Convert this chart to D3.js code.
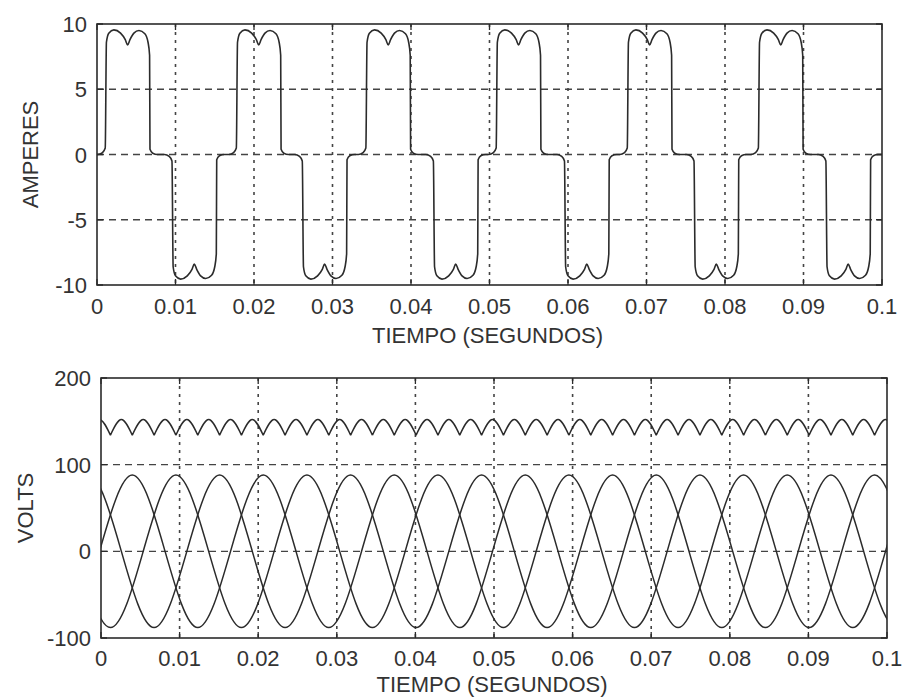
<!DOCTYPE html>
<html>
<head>
<meta charset="utf-8">
<script src="https://cdnjs.cloudflare.com/ajax/libs/d3/7.8.5/d3.min.js"></script>
<style>
  body { margin: 0; background: #fff; }
  svg { display: block; }
  text { font-family: "Liberation Sans", Arial, sans-serif; fill: #333; }
</style>
</head>
<body>
<script>
// shared time axis
const timeTicks = [0, 0.01, 0.02, 0.03, 0.04, 0.05, 0.06, 0.07, 0.08, 0.09, 0.1];
const timeTickLabels = ["0", "0.01", "0.02", "0.03", "0.04", "0.05", "0.06", "0.07", "0.08", "0.09", "0.1"];
const ampTicks = [-10, -5, 0, 5, 10];
const voltTicks = [-100, 0, 100, 200];

// current pulses: centre of each pulse (s), read at the dip / bump
const posPulseCenters = [0.0039, 0.0206, 0.0371, 0.0537, 0.0704, 0.0871];
const negPulseCenters = [0.0124, 0.029, 0.0457, 0.0624, 0.0789, 0.0957];
// one positive pulse: [offset from centre (s), amperes]
const pulseShape = [
  [-0.0038, 0], [-0.0032, 0.15], [-0.00285, 0.5], [-0.0027, 8.6], [-0.0024, 9.3],
  [-0.00175, 9.55], [-0.0009, 9.3], [-0.0003, 8.8], [0, 8.4], [0.0003, 8.8],
  [0.0008, 9.3], [0.00145, 9.5], [0.0022, 9.25], [0.0026, 8.6], [0.0028, 7.6],
  [0.00285, 0.4], [0.0032, 0.1], [0.0038, 0]
];

// phase voltages: peaks, troughs and zero crossings [s, volts]
const phaseA = [
  [-0.00575, 0], [-0.00158, 88], [0.00259, 0], [0.00675, -88], [0.01092, 0], [0.01509, 88],
  [0.01925, 0], [0.02342, -88], [0.02759, 0], [0.03175, 88], [0.03592, 0], [0.04009, -88],
  [0.04425, 0], [0.04842, 88], [0.05259, 0], [0.05675, -88], [0.06092, 0], [0.06509, 88],
  [0.06925, 0], [0.07342, -88], [0.07759, 0], [0.08175, 88], [0.08592, 0], [0.09009, -88],
  [0.09425, 0], [0.09842, 88], [0.10259, 0]
];
const phaseB = [
  [-0.00019, 0], [0.00398, 88], [0.00815, 0], [0.01231, -88], [0.01648, 0], [0.02065, 88],
  [0.02481, 0], [0.02898, -88], [0.03315, 0], [0.03731, 88], [0.04148, 0], [0.04565, -88],
  [0.04981, 0], [0.05398, 88], [0.05815, 0], [0.06231, -88], [0.06648, 0], [0.07065, 88],
  [0.07481, 0], [0.07898, -88], [0.08315, 0], [0.08731, 88], [0.09148, 0], [0.09565, -88],
  [0.09981, 0], [0.10398, 88], [0.10815, 0]
];
const phaseC = [
  [-0.00297, 0], [0.0012, -88], [0.00537, 0], [0.00953, 88], [0.0137, 0], [0.01787, -88],
  [0.02203, 0], [0.0262, 88], [0.03037, 0], [0.03453, -88], [0.0387, 0], [0.04287, 88],
  [0.04703, 0], [0.0512, -88], [0.05537, 0], [0.05953, 88], [0.0637, 0], [0.06787, -88],
  [0.07203, 0], [0.0762, 88], [0.08037, 0], [0.08453, -88], [0.0887, 0], [0.09287, 88],
  [0.09703, 0], [0.1012, -88], [0.10537, 0]
];

// rectified output: cusp instants (s) and the shape of one arc [fraction, volts]
const rippleCusps = [
  -0.00158, 0.0012, 0.00398, 0.00676, 0.00953, 0.01231, 0.01509, 0.01787, 0.02064, 0.02342,
  0.0262, 0.02898, 0.03176, 0.03453, 0.03731, 0.04009, 0.04287, 0.04564, 0.04842, 0.0512,
  0.05398, 0.05676, 0.05953, 0.06231, 0.06509, 0.06787, 0.07064, 0.07342, 0.0762, 0.07898,
  0.08176, 0.08453, 0.08731, 0.09009, 0.09287, 0.09564, 0.09842, 0.1012
];
const rippleArc = [[0, 134], [0.5, 152], [1, 134]];

const ink = "#2b2b2b";

const svg = d3.select("body").append("svg")
  .attr("width", 903)
  .attr("height", 699);

const panel = (cfg) => {
  const x = d3.scaleLinear().domain([0, 0.1]).range([cfg.left, cfg.right]);
  const y = d3.scaleLinear().domain(cfg.domain).range([cfg.bottom, cfg.top]);
  const g = svg.append("g");

  g.append("clipPath").attr("id", cfg.id)
    .append("rect")
    .attr("x", cfg.left).attr("y", cfg.top)
    .attr("width", cfg.right - cfg.left).attr("height", cfg.bottom - cfg.top);

  // grid
  g.selectAll(".hgrid")
    .data(cfg.ticks.slice(1, -1))
    .enter().append("line")
    .attr("x1", cfg.left).attr("x2", cfg.right)
    .attr("y1", (d) => y(d)).attr("y2", (d) => y(d))
    .style("stroke", "#444").style("stroke-width", 1.3)
    .style("stroke-dasharray", "7,5");
  g.selectAll(".vgrid")
    .data(timeTicks.slice(1, -1))
    .enter().append("line")
    .attr("x1", (d) => x(d)).attr("x2", (d) => x(d))
    .attr("y1", cfg.top).attr("y2", cfg.bottom)
    .style("stroke", "#444").style("stroke-width", 1.6)
    .style("stroke-dasharray", "3,5");

  // inward ticks
  g.selectAll(".xtick")
    .data(timeTicks)
    .enter().append("path")
    .attr("d", (d) => `M${x(d)},${cfg.top}v6M${x(d)},${cfg.bottom}v-6`)
    .style("stroke", ink).style("stroke-width", 1.3);
  g.selectAll(".ytick")
    .data(cfg.ticks)
    .enter().append("path")
    .attr("d", (d) => `M${cfg.left},${y(d)}h6M${cfg.right},${y(d)}h-6`)
    .style("stroke", ink).style("stroke-width", 1.3);

  const plot = g.append("g").attr("clip-path", `url(#${cfg.id})`);

  g.append("rect")
    .attr("x", cfg.left).attr("y", cfg.top)
    .attr("width", cfg.right - cfg.left).attr("height", cfg.bottom - cfg.top)
    .style("fill", "none").style("stroke", ink).style("stroke-width", 1.6);

  // tick labels
  g.selectAll(".xlab")
    .data(timeTicks)
    .enter().append("text")
    .attr("x", (d) => x(d)).attr("y", cfg.xLabelY)
    .attr("text-anchor", "middle")
    .style("font-size", "22px")
    .text((d, i) => timeTickLabels[i]);
  g.selectAll(".ylab")
    .data(cfg.ticks)
    .enter().append("text")
    .attr("x", cfg.left - 10).attr("y", (d) => y(d) + 8)
    .attr("text-anchor", "end")
    .style("font-size", "22px")
    .text((d) => d);

  g.append("text")
    .attr("x", (cfg.left + cfg.right) / 2 - 2).attr("y", cfg.titleY)
    .attr("text-anchor", "middle")
    .style("font-size", "22px")
    .text("TIEMPO (SEGUNDOS)");
  g.append("text")
    .attr("transform", `translate(${cfg.yTitleX},${(cfg.top + cfg.bottom) / 2}) rotate(-90)`)
    .attr("text-anchor", "middle")
    .style("font-size", "22px")
    .text(cfg.yTitle);

  return { x, y, plot };
};

// --- top: line current
const ampPanel = panel({
  id: "clip-amp", left: 97, right: 882, top: 24, bottom: 285,
  domain: [-10, 10], ticks: ampTicks,
  xLabelY: 314, titleY: 343, yTitle: "AMPERES", yTitleX: 38
});

const pulses = posPulseCenters.map((c) => ({ c, sign: 1 }))
  .concat(negPulseCenters.map((c) => ({ c, sign: -1 })))
  .sort((a, b) => a.c - b.c);
const currentSeries = [[0, 0]];
pulses.forEach((p) => {
  pulseShape.forEach(([dt, v]) => currentSeries.push([p.c + dt, p.sign * v]));
});
currentSeries.push([0.1, 0]);

const currentLine = d3.line()
  .x((d) => ampPanel.x(d[0]))
  .y((d) => ampPanel.y(d[1]))
  .curve(d3.curveMonotoneX);

ampPanel.plot.append("path")
  .attr("d", currentLine(currentSeries))
  .style("fill", "none").style("stroke", ink).style("stroke-width", 1.6);

// --- bottom: voltages
const voltPanel = panel({
  id: "clip-volt", left: 101, right: 887, top: 378, bottom: 638,
  domain: [-100, 200], ticks: voltTicks,
  xLabelY: 666, titleY: 692, yTitle: "VOLTS", yTitleX: 33
});

const phaseLine = d3.line()
  .x((d) => voltPanel.x(d[0]))
  .y((d) => voltPanel.y(d[1]))
  .curve(d3.curveNatural);

voltPanel.plot.selectAll(".phase")
  .data([phaseA, phaseB, phaseC])
  .enter().append("path")
  .attr("d", (d) => phaseLine(d))
  .style("fill", "none").style("stroke", ink).style("stroke-width", 1.5);

const rippleSegments = d3.pairs(rippleCusps)
  .map(([a, b]) => rippleArc.map(([f, v]) => [a + f * (b - a), v]));

voltPanel.plot.append("path")
  .attr("d", rippleSegments.map((s) => phaseLine(s)).join(""))
  .style("fill", "none").style("stroke", ink).style("stroke-width", 1.5);
</script>
</body>
</html>
